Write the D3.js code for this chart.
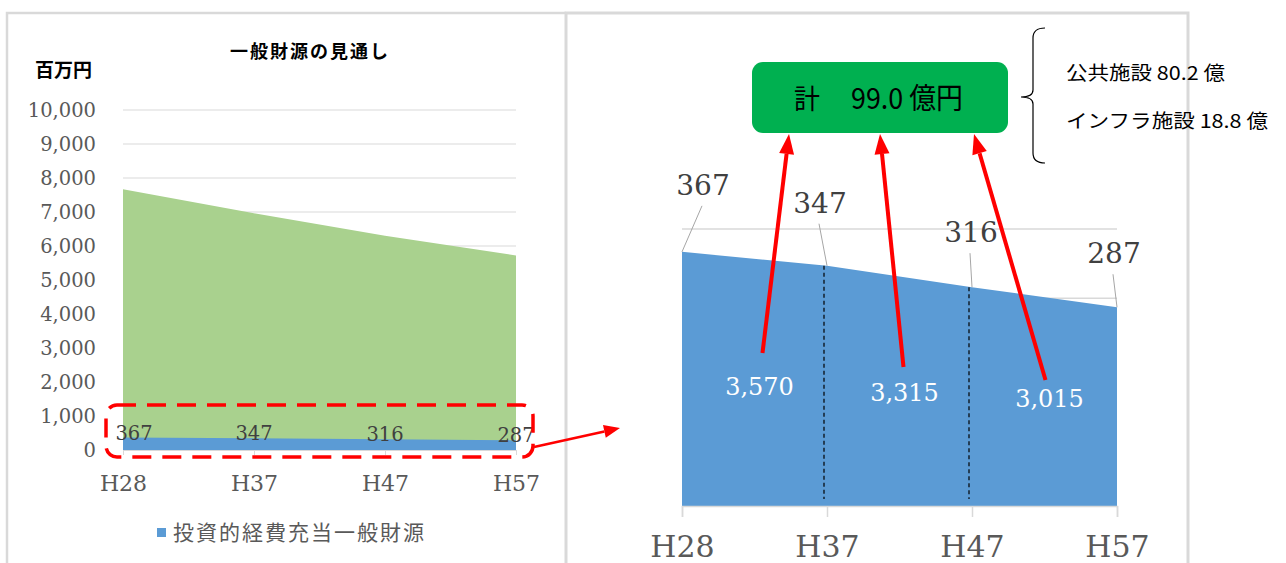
<!DOCTYPE html>
<html><head><meta charset="utf-8">
<script src="https://cdn.jsdelivr.net/npm/d3@7"></script>
<style>
html,body{margin:0;padding:0;background:#fff;}
svg{display:block;}
</style></head><body>
<svg id="chart" width="1286" height="563"></svg>
<script>
// ---- data ----
const categories = ["H28", "H37", "H47", "H57"];
const generalRevenue = [7670, 6960, 6300, 5720];      // 一般財源（百万円）
const investmentRevenue = [367, 347, 316, 287];       // 投資的経費充当一般財源（百万円）
const leftTicks = [0, 1000, 2000, 3000, 4000, 5000, 6000, 7000, 8000, 9000, 10000];
const rightGrid = [100, 200, 300, 400];
const periodTotals = [3570, 3315, 3015];              // 各期間の合計（百万円）
const totalLabel = ["計", "99.0 億円"];
const breakdown = ["公共施設 80.2 億", "インフラ施設 18.8 億"];
const chartTitle = "一般財源の見通し";
const unitLabel = "百万円";
const legendLabel = "投資的経費充当一般財源";

// ---- styles ----
const SERIF = "'DejaVu Serif', serif";
const CJK = "'Noto Sans CJK JP', sans-serif";
const BLUE = "#5b9bd5", GREEN = "#a9d18e", GRID = "#d9d9d9", TEXT = "#595959", RED = "#ff0000";
const fmt = d3.format(",");

const svg = d3.select("#chart");
svg.append("rect").attr("width", 1286).attr("height", 563).attr("fill", "#fff");

// panel frames
svg.append("path").attr("d", "M7,563V13H566").attr("fill", "none").attr("stroke", GRID).attr("stroke-width", 2.5);
svg.append("path").attr("d", "M566,563V13H1188V563").attr("fill", "none").attr("stroke", GRID).attr("stroke-width", 3);

function arrow(g, x1, y1, x2, y2, w, hl, hw) {
  const a = Math.atan2(y2 - y1, x2 - x1);
  const bx = x2 - hl * Math.cos(a), by = y2 - hl * Math.sin(a);
  g.append("line").attr("x1", x1).attr("y1", y1).attr("x2", bx).attr("y2", by)
    .attr("stroke", RED).attr("stroke-width", w);
  const px = Math.sin(a) * hw / 2, py = -Math.cos(a) * hw / 2;
  g.append("polygon").attr("points", [[x2, y2], [bx + px, by + py], [bx - px, by - py]].map(p => p.join(",")).join(" "))
    .attr("fill", RED);
}

// ================= left chart =================
const L = svg.append("g");
const xL = d3.scalePoint().domain(categories).range([123, 516]);
const yL = d3.scaleLinear().domain([0, 10000]).range([450, 110]);

L.append("text").attr("x", 310).attr("y", 58).attr("text-anchor", "middle")
  .attr("font-family", CJK).attr("font-weight", "bold").attr("font-size", 18).attr("letter-spacing", 2)
  .attr("fill", "#000").text(chartTitle);
L.append("text").attr("x", 35).attr("y", 77)
  .attr("font-family", CJK).attr("font-weight", "bold").attr("font-size", 19)
  .attr("fill", "#000").text(unitLabel);

// gridlines
L.append("g").selectAll("line").data(leftTicks.filter(d => d > 0)).join("line")
  .attr("x1", xL.range()[0]).attr("x2", xL.range()[1])
  .attr("y1", d => yL(d)).attr("y2", d => yL(d))
  .attr("stroke", GRID).attr("stroke-width", 1.2);

// y axis labels
const yAxisL = L.append("g").attr("transform", `translate(${xL.range()[0]},0)`)
  .call(d3.axisLeft(yL).tickValues(leftTicks).tickFormat(fmt).tickSize(0).tickPadding(27));
yAxisL.select(".domain").remove();
yAxisL.selectAll("text").attr("font-family", SERIF).attr("font-size", 19.5).attr("fill", TEXT);

const areaL = (vals) => d3.area().x((d, i) => xL(categories[i])).y0(yL(0)).y1(d => yL(d))(vals);
L.append("path").attr("d", areaL(generalRevenue)).attr("fill", GREEN);
L.append("path").attr("d", areaL(investmentRevenue)).attr("fill", BLUE);

// x axis
const xAxisL = L.append("g").attr("transform", `translate(0,${yL(0)})`)
  .call(d3.axisBottom(xL).tickSize(5).tickPadding(20));
xAxisL.select(".domain").attr("stroke", GRID);
xAxisL.selectAll(".tick line").attr("stroke", GRID);
xAxisL.selectAll("text").attr("font-family", SERIF).attr("font-size", 22).attr("fill", TEXT);

// value labels
L.append("g").selectAll("text").data(investmentRevenue).join("text")
  .attr("x", (d, i) => xL(categories[i]) + (i === 0 ? 11 : 0))
  .attr("y", d => yL(d) + 2)
  .attr("text-anchor", "middle")
  .attr("font-family", SERIF).attr("font-size", 19.5).attr("fill", "#404040")
  .text(d => d);

// highlight frame and pointer
L.append("rect").attr("x", 106).attr("y", 405).attr("width", 427).attr("height", 52).attr("rx", 11)
  .attr("fill", "none").attr("stroke", RED).attr("stroke-width", 3.5).attr("stroke-dasharray", "19,11");
arrow(L, 534, 447, 620, 428, 2.5, 16, 13);

// legend
L.append("rect").attr("x", 157).attr("y", 528).attr("width", 9).attr("height", 9).attr("fill", BLUE);
L.append("text").attr("x", 173).attr("y", 540)
  .attr("font-family", CJK).attr("font-size", 21).attr("letter-spacing", 2).attr("fill", TEXT).text(legendLabel);

// ================= right chart (enlarged) =================
const R = svg.append("g");
const xR = d3.scalePoint().domain(categories).range([682, 1117]);
const yR = d3.scaleLinear().domain([0, 400]).range([506, 229]);

R.append("g").selectAll("line").data(rightGrid).join("line")
  .attr("x1", xR.range()[0]).attr("x2", xR.range()[1])
  .attr("y1", d => yR(d)).attr("y2", d => yR(d))
  .attr("stroke", GRID).attr("stroke-width", 1.5);

R.append("path")
  .attr("d", d3.area().x((d, i) => xR(categories[i])).y0(yR(0)).y1(d => yR(d))(investmentRevenue))
  .attr("fill", BLUE);

// period separators
R.append("g").selectAll("line").data(categories.slice(1, -1)).join("line")
  .attr("x1", d => xR(d) - 3).attr("x2", d => xR(d) - 3)
  .attr("y1", d => yR(investmentRevenue[categories.indexOf(d)]))
  .attr("y2", yR(0) - 7)
  .attr("stroke", "#000").attr("stroke-width", 1.2).attr("stroke-dasharray", "4,3");

const xAxisR = R.append("g").attr("transform", `translate(0,${yR(0)})`)
  .call(d3.axisBottom(xR).tickSize(11).tickPadding(19));
xAxisR.select(".domain").attr("stroke", GRID).attr("stroke-width", 1.5);
xAxisR.selectAll(".tick line").attr("stroke", GRID).attr("stroke-width", 1.5);
xAxisR.selectAll("text").attr("font-family", SERIF).attr("font-size", 30).attr("fill", TEXT);

// point labels with leader lines
const labelShift = [[21, -57], [-7, -53], [-1, -45], [-3, -44]];
const pts = investmentRevenue.map((v, i) => ({ v, x: xR(categories[i]), y: yR(v), dx: labelShift[i][0], dy: labelShift[i][1] }));
R.append("g").selectAll("line").data(pts).join("line")
  .attr("x1", d => d.x).attr("y1", d => d.y)
  .attr("x2", d => d.x + d.dx - 1).attr("y2", d => d.y + d.dy + 11)
  .attr("stroke", "#a6a6a6").attr("stroke-width", 1);
R.append("g").selectAll("text").data(pts).join("text")
  .attr("x", d => d.x + d.dx).attr("y", d => d.y + d.dy)
  .attr("text-anchor", "middle")
  .attr("font-family", SERIF).attr("font-size", 28).attr("fill", "#404040")
  .text(d => d.v);

// period totals
const tot = periodTotals.map((v, i) => ({
  v, x: (xR(categories[i]) + xR(categories[i + 1])) / 2 + 5, y: 395 + i * 6
}));
R.append("g").selectAll("text").data(tot).join("text")
  .attr("x", d => d.x).attr("y", d => d.y).attr("text-anchor", "middle")
  .attr("font-family", SERIF).attr("font-size", 24).attr("fill", "#fff")
  .text(d => fmt(d.v));

// total box
const box = { x: 752, y: 62, w: 256, h: 71 };
R.append("rect").attr("x", box.x).attr("y", box.y).attr("width", box.w).attr("height", box.h)
  .attr("rx", 11).attr("fill", "#00b050");
R.append("text").attr("x", 794).attr("y", 109).attr("font-family", CJK).attr("font-size", 27)
  .attr("textLength", 26).attr("lengthAdjust", "spacingAndGlyphs").attr("fill", "#000").text(totalLabel[0]);
R.append("text").attr("x", 851).attr("y", 109).attr("font-family", CJK).attr("font-size", 29)
  .attr("textLength", 112).attr("lengthAdjust", "spacingAndGlyphs").attr("fill", "#000").text(totalLabel[1]);

// arrows from period totals to the box
const tips = [37, 128, 222];
const tails = [[3, -42], [-1, -34], [-4, -27]];
tot.forEach((d, i) => arrow(R, d.x - 5 + tails[i][0] + 5, d.y + tails[i][1], box.x + tips[i], box.y + box.h + 1, 4, 20, 15));

// brace and breakdown
R.append("path")
  .attr("d", "M1045,28 Q1033,28 1033,38 V90 Q1033,97 1021,97 Q1033,97 1033,104 V153 Q1033,163 1045,163")
  .attr("fill", "none").attr("stroke", "#000").attr("stroke-width", 1.2);
R.append("g").selectAll("text").data(breakdown).join("text")
  .attr("x", 1066).attr("y", (d, i) => 80 + i * 48)
  .attr("font-family", CJK).attr("font-size", 19)
  .attr("textLength", (d, i) => [159, 202][i]).attr("lengthAdjust", "spacingAndGlyphs")
  .attr("fill", "#000").text(d => d);
</script>
</body></html>
